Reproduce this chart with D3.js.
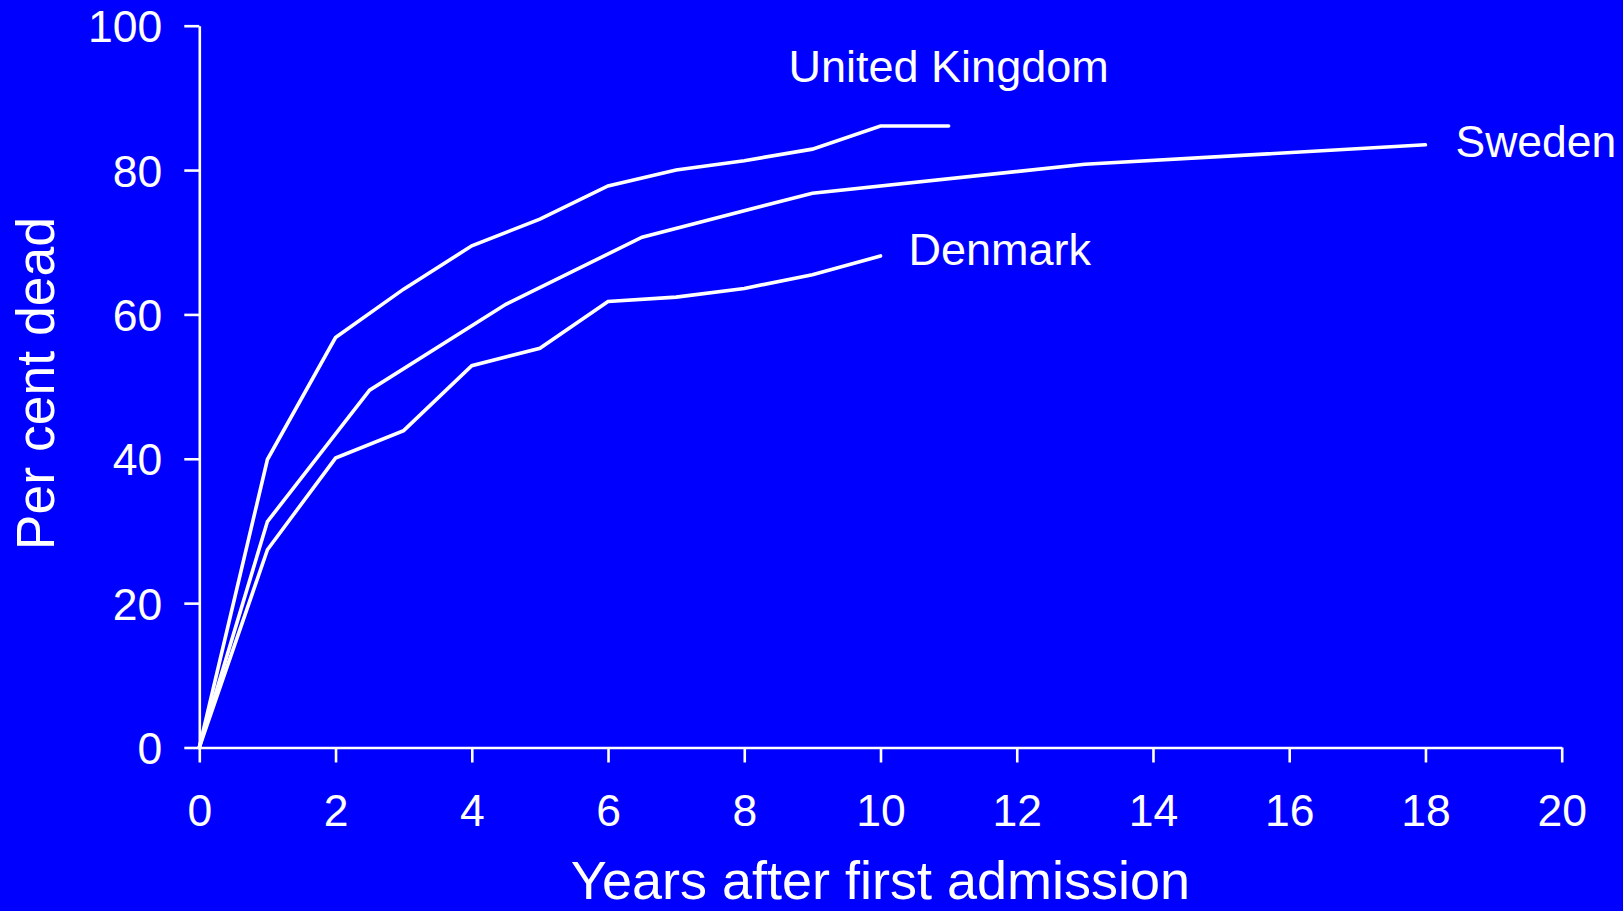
<!DOCTYPE html>
<html>
<head>
<meta charset="utf-8">
<script src="https://cdn.jsdelivr.net/npm/d3@7"></script>
<style>
  html, body { margin: 0; padding: 0; background: #0000ff; overflow: hidden; }
  svg { display: block; }
  text { font-family: "Liberation Sans", Arial, Helvetica, sans-serif; fill: #ffffff; }
</style>
</head>
<body>
<svg id="chart" width="1623" height="911"></svg>
<script>
// ---- Data ----
const ukYears = [0, 1, 2, 3, 4, 5, 6, 7, 8, 9, 10, 11];
const ukDead  = [0, 39.9, 56.8, 63.5, 69.5, 73.2, 77.8, 80.0, 81.3, 82.9, 86.1, 86.1];

const swedenYears = [0, 1, 2.5, 4.5, 6.5, 9, 13, 18];
const swedenDead  = [0, 31.3, 49.5, 61.4, 70.7, 76.8, 80.8, 83.5];

const denmarkYears = [0, 1, 2, 3, 4, 5, 6, 7, 8, 9, 10];
const denmarkDead  = [0, 27.4, 40.1, 43.9, 52.9, 55.3, 61.8, 62.4, 63.6, 65.5, 68.1];

const seriesNames = ["United Kingdom", "Sweden", "Denmark"];
const xTicks = [0, 2, 4, 6, 8, 10, 12, 14, 16, 18, 20];
const yTicks = [0, 20, 40, 60, 80, 100];
const xTitle = "Years after first admission";
const yTitle = "Per cent dead";

// ---- Layout ----
const svg = d3.select("#chart");
svg.append("rect").attr("width", 1623).attr("height", 911).attr("fill", "#0000ff");

const x = d3.scaleLinear().domain([0, 20]).range([199.3, 1561.7]);
const y = d3.scaleLinear().domain([0, 100]).range([747.5, 25.7]);

const axisColor = "#ffffff";

// X axis
const gx = svg.append("g").attr("transform", `translate(0,${y(0)})`)
  .call(d3.axisBottom(x).tickValues(xTicks).tickFormat(d3.format("d")).tickSize(15).tickSizeOuter(0).tickPadding(32));
// Y axis
const gy = svg.append("g").attr("transform", `translate(${x(0)},0)`)
  .call(d3.axisLeft(y).tickValues(yTicks).tickFormat(d3.format("d")).tickSize(15).tickSizeOuter(0).tickPadding(22));

[gx, gy].forEach(g => {
  g.select(".domain").attr("stroke", axisColor).attr("stroke-width", 2.6);
  g.selectAll(".tick line").attr("stroke", axisColor).attr("stroke-width", 2.6);
  g.selectAll(".tick text")
    .attr("fill", "#ffffff")
    .style("font-family", '"Liberation Sans", Arial, sans-serif')
    .style("font-size", "44.5px");
});
gy.selectAll(".tick text").attr("dy", "0.36em");
gx.selectAll(".tick text").attr("dy", "0.71em");

// Lines
const line = d3.line().x(d => x(d[0])).y(d => y(d[1]));
const series = [
  { name: seriesNames[0], pts: ukYears.map((v, i) => [v, ukDead[i]]) },
  { name: seriesNames[1], pts: swedenYears.map((v, i) => [v, swedenDead[i]]) },
  { name: seriesNames[2], pts: denmarkYears.map((v, i) => [v, denmarkDead[i]]) }
];
svg.append("g").selectAll("path").data(series).join("path")
  .attr("d", d => line(d.pts))
  .attr("fill", "none")
  .attr("stroke", "#ffffff")
  .attr("stroke-width", 3.6)
  .attr("stroke-linejoin", "miter")
  .attr("stroke-linecap", "round");

// Series labels
const ukEnd = series[0].pts[series[0].pts.length - 1];
const swEnd = series[1].pts[series[1].pts.length - 1];
const dkEnd = series[2].pts[series[2].pts.length - 1];

svg.append("text").text(seriesNames[0])
  .attr("x", x(ukEnd[0])).attr("y", y(ukEnd[1]) - 44)
  .attr("text-anchor", "middle").style("font-size", "45px");
svg.append("text").text(seriesNames[1])
  .attr("x", x(swEnd[0]) + 30).attr("y", y(swEnd[1]) + 12)
  .attr("text-anchor", "start").style("font-size", "44.5px");
svg.append("text").text(seriesNames[2])
  .attr("x", x(dkEnd[0]) + 28).attr("y", y(dkEnd[1]) + 9)
  .attr("text-anchor", "start").style("font-size", "45px");

// Axis titles
svg.append("text").text(xTitle)
  .attr("x", (x(0) + x(20)) / 2).attr("y", 899)
  .attr("text-anchor", "middle").style("font-size", "54px");
svg.append("text").text(yTitle)
  .attr("transform", `translate(54,${(y(0) + y(100)) / 2 - 3}) rotate(-90)`)
  .attr("text-anchor", "middle").style("font-size", "53.5px");
</script>
</body>
</html>
